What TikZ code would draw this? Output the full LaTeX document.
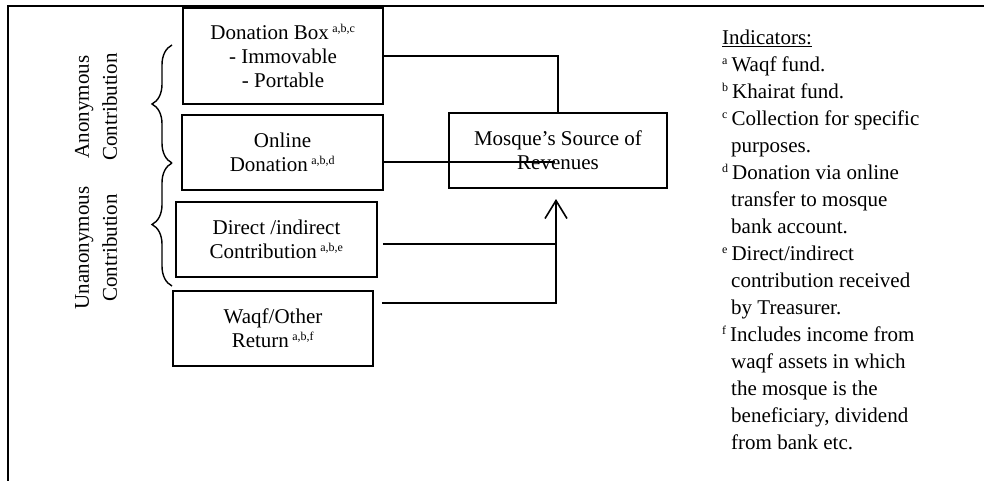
\documentclass[tikz,border=0pt]{standalone}
\usepackage{fontspec}
\setmainfont{Liberation Serif}
\usetikzlibrary{arrows.meta,decorations.pathreplacing}

\newcommand{\idx}[1]{\,\textsuperscript{\fontsize{12}{12}\selectfont #1}}
\newcommand{\ind}[1]{\textsuperscript{\fontsize{12}{12}\selectfont #1}\,}
\newcommand{\cont}{\hspace*{9pt}}

\tikzset{
  srcbox/.style={draw, line width=1.6pt, align=center, inner sep=2pt,
    font=\fontsize{21}{24}\selectfont},
  link/.style={line width=1.6pt},
  grp/.style={line width=1.4pt, decorate, decoration={brace, amplitude=20pt}},
  grplabel/.style={rotate=90, align=center, font=\fontsize{21}{28}\selectfont},
}

\begin{document}
\begin{tikzpicture}[x=1pt,y=-1pt]
\useasboundingbox (0,0) rectangle (984,481);
% frame
\draw[link] (8,481) -- (8,6) -- (984,6);
% sources
\node[srcbox, minimum width=200pt, minimum height=96pt] (dbox) at (283,56)
  {Donation Box\idx{a,b,c}\\- Immovable\\- Portable};
\node[srcbox, minimum width=201pt, minimum height=75pt] (obox) at (282.5,152.5)
  {Online\\Donation\idx{a,b,d}};
\node[srcbox, minimum width=201pt, minimum height=75pt] (dibox) at (276.5,239.5)
  {Direct /indirect\\Contribution\idx{a,b,e}};
\node[srcbox, minimum width=200pt, minimum height=75pt] (wbox) at (273,328.5)
  {Waqf/Other\\Return\idx{a,b,f}};
\node[srcbox, minimum width=218pt, minimum height=75pt] (mosque) at (558,150.5)
  {Mosque's Source of\\Revenues};
% groups
\draw[grp] (172,163) -- (172,45);
\draw[grp] (172,286) -- (172,163);
\node[grplabel] (anon) at (96,107) {Anonymous\\Contribution};
\node[grplabel] (unanon) at (96,248) {Unanonymous\\Contribution};
% links
\coordinate (odend) at (555,162);
\coordinate (djoin) at (556,244);
\coordinate (wjoin) at (556,303);
\coordinate (rtip) at (556,199);
\draw[link] (dbox.east) -| (mosque.north);
\draw[link] (obox.east |- odend) -- (odend);
\draw[link, shorten <=5pt] (dibox.east |- djoin) -- (djoin);
\draw[link, shorten <=8pt, -{Straight Barb[length=18pt,width=22pt]}]
  (wbox.east |- wjoin) -- (wjoin) -- (rtip);
% indicators
\node[anchor=north west, inner sep=0pt, align=left,
  font=\fontsize{21}{27}\selectfont] (legend) at (722,30)
  {\underline{Indicators:}\\
   \ind{a}Waqf fund.\\
   \ind{b}Khairat fund.\\
   \ind{c}Collection for specific\\
   \cont purposes.\\
   \ind{d}Donation via online\\
   \cont transfer to mosque\\
   \cont bank account.\\
   \ind{e}Direct/indirect\\
   \cont contribution received\\
   \cont by Treasurer.\\
   \ind{f}Includes income from\\
   \cont waqf assets in which\\
   \cont the mosque is the\\
   \cont beneficiary, dividend\\
   \cont from bank etc.};
\end{tikzpicture}
\end{document}
